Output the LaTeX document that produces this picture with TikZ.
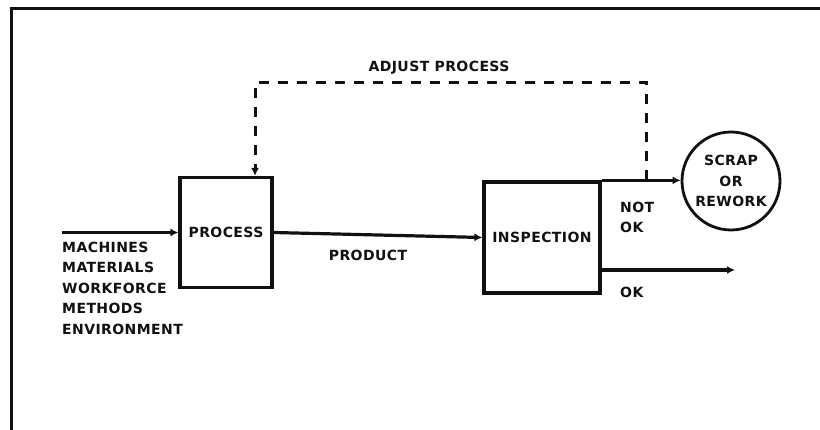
\documentclass[tikz,border=0pt]{standalone}
\usepackage{xcolor}
\definecolor{chart-ink}{HTML}{111111}
\definecolor{chart-paper}{HTML}{FFFFFF}
\usepackage{fontspec}
\setmainfont{DejaVu Sans}[LetterSpace=3]
\usepackage{tikz}
\usetikzlibrary{arrows.meta}

\tikzset{
  tag text/.style={font=\fontsize{14}{20.5}\selectfont\bfseries, text=chart-ink, inner sep=0pt},
  flow box/.style={tag text, draw=chart-ink, line width=3.2pt, rectangle},
  flow line/.style={draw=chart-ink, line width=3.2pt, -{Latex[length=8pt,width=8pt]}},
  feedback line/.style={flow line, line width=3pt, dash pattern=on 10pt off 9pt}
}

\begin{document}
\begin{tikzpicture}[x=1pt, y=-1pt]

    % Background
    \useasboundingbox (0,0) rectangle (820,430);
    \fill[chart-paper] (0,0) rectangle (820,430);

% Frame
\draw[chart-ink, line width=3pt] (11,430) -- (11,9) -- (820,9);

% Boxes
\node[flow box, minimum width=92, minimum height=110] (process) at (226,232.5) {PROCESS};
\node[flow box, minimum width=116, minimum height=111] (inspect) at (542,237.5) {INSPECTION};
\node[flow box, circle, line width=2.8pt, minimum size=98, align=center] (scrap) at (731,181) {SCRAP\\OR\\REWORK};

% Inputs
\coordinate (feed) at (62,232.5);
\draw[flow line] (feed) -- (process.west);
\node[tag text, anchor=west, align=left] (inputs) at (62,288)
  {MACHINES\\MATERIALS\\WORKFORCE\\METHODS\\ENVIRONMENT};

% Product
\draw[flow line] (process.east) -- (inspect.west);
\node[tag text] (prodLbl) at (368,255) {PRODUCT};

% Not ok / ok
\draw[flow line] (inspect.north east) -- coordinate[pos=0.57] (tap) (inspect.north east -| scrap.west);
\node[tag text, anchor=west, align=left] (notOk) at (620,217.5) {NOT\\OK};
\coordinate (okEnd) at (735,270);
\draw[flow line] (inspect.east |- okEnd) -- (okEnd);
\node[tag text, anchor=west] (okLbl) at (620,292) {OK};

% Adjust process
\coordinate (adjL) at (255,83);
\draw[feedback line] (tap) |- (adjL) -- (adjL |- process.north);
\node[tag text] (adjLbl) at (439,68) {ADJUST PROCESS};

\end{tikzpicture}
\end{document}
